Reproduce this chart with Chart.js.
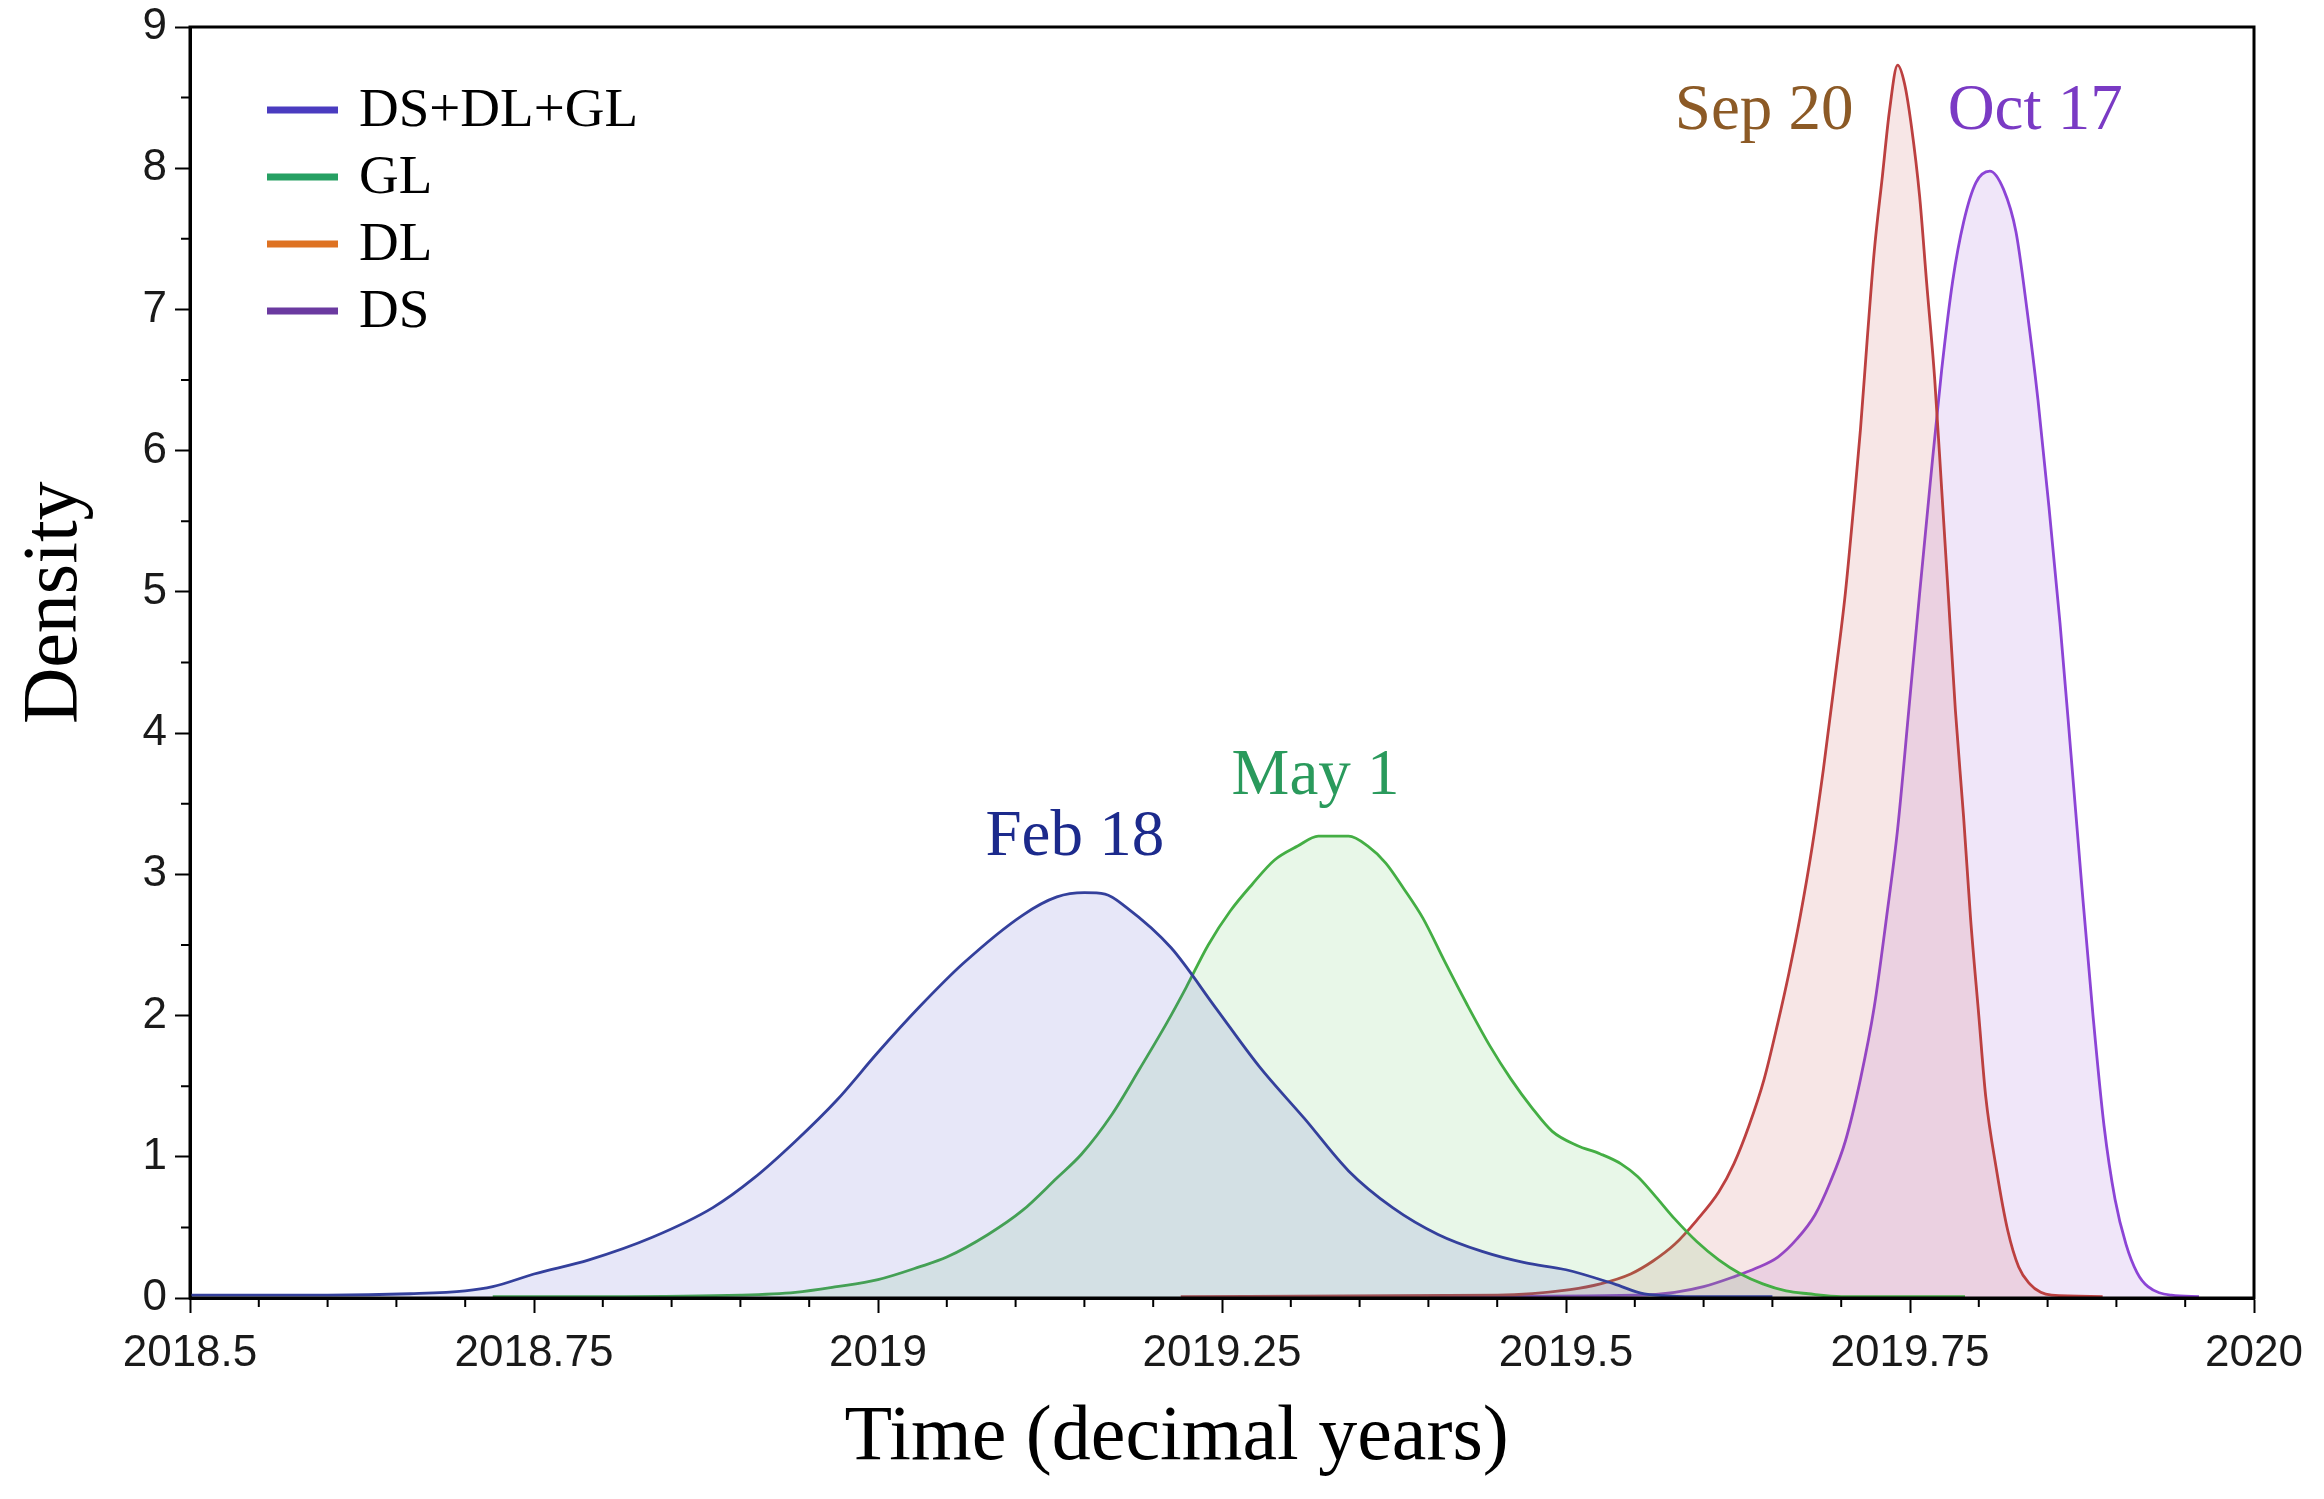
<!DOCTYPE html>
<html>
<head>
<meta charset="utf-8">
<script src="https://cdn.jsdelivr.net/npm/chart.js@4.4.1/dist/chart.umd.min.js"></script>
<style>
  html, body { margin: 0; padding: 0; background: #fff; }
  #wrap { width: 2324px; height: 1499px; }
</style>
</head>
<body>
<div id="wrap"><canvas id="graficoDensidad" width="2324" height="1499"></canvas></div>
<script>
"use strict";

//Series (decimal year, density)
const totalX = [2018.5, 2018.6, 2018.66, 2018.7, 2018.72, 2018.75, 2018.79, 2018.836, 2018.88, 2018.91, 2018.94, 2018.97, 2019.0, 2019.03, 2019.062, 2019.105, 2019.13, 2019.15, 2019.165, 2019.18, 2019.213, 2019.245, 2019.277, 2019.31, 2019.342, 2019.374, 2019.407, 2019.439, 2019.47, 2019.5, 2019.535, 2019.557, 2019.6, 2019.65];
const totalY = [0.02, 0.02, 0.03, 0.05, 0.08, 0.17, 0.27, 0.43, 0.64, 0.85, 1.11, 1.4, 1.74, 2.06, 2.37, 2.71, 2.84, 2.87, 2.86, 2.77, 2.48, 2.06, 1.64, 1.27, 0.9, 0.64, 0.45, 0.33, 0.25, 0.2, 0.1, 0.03, 0.01, 0.01];

const glX = [2018.72, 2018.8, 2018.9, 2018.94, 2018.97, 2019.0, 2019.03, 2019.05, 2019.08, 2019.105, 2019.13, 2019.148, 2019.17, 2019.19, 2019.21, 2019.224, 2019.24, 2019.256, 2019.272, 2019.288, 2019.305, 2019.32, 2019.342, 2019.356, 2019.369, 2019.382, 2019.396, 2019.412, 2019.428, 2019.445, 2019.46, 2019.475, 2019.49, 2019.508, 2019.525, 2019.54, 2019.552, 2019.565, 2019.579, 2019.595, 2019.611, 2019.627, 2019.643, 2019.66, 2019.676, 2019.7, 2019.79];
const glY = [0.01, 0.01, 0.02, 0.04, 0.08, 0.13, 0.22, 0.29, 0.45, 0.62, 0.85, 1.02, 1.3, 1.62, 1.95, 2.2, 2.5, 2.74, 2.93, 3.1, 3.2, 3.27, 3.27, 3.2, 3.08, 2.9, 2.69, 2.38, 2.08, 1.78, 1.55, 1.35, 1.18, 1.08, 1.02, 0.95, 0.86, 0.72, 0.56, 0.4, 0.27, 0.17, 0.1, 0.05, 0.03, 0.01, 0.01];

const dlX = [2019.22, 2019.45, 2019.503, 2019.525, 2019.547, 2019.563, 2019.579, 2019.595, 2019.611, 2019.622, 2019.633, 2019.644, 2019.654, 2019.662, 2019.67, 2019.679, 2019.687, 2019.695, 2019.703, 2019.709, 2019.714, 2019.719, 2019.724, 2019.73, 2019.735, 2019.741, 2019.746, 2019.751, 2019.757, 2019.762, 2019.768, 2019.773, 2019.778, 2019.783, 2019.789, 2019.794, 2019.8, 2019.805, 2019.813, 2019.821, 2019.829, 2019.837, 2019.845, 2019.853, 2019.89];
const dlY = [0.01, 0.02, 0.06, 0.1, 0.17, 0.26, 0.38, 0.55, 0.75, 0.95, 1.22, 1.55, 1.95, 2.3, 2.69, 3.2, 3.74, 4.35, 4.99, 5.6, 6.15, 6.8, 7.41, 7.95, 8.4, 8.73, 8.6, 8.3, 7.8, 7.2, 6.5, 5.73, 4.95, 4.16, 3.4, 2.69, 2.0, 1.43, 0.9, 0.48, 0.22, 0.1, 0.04, 0.02, 0.01];

const dsX = [2019.4, 2019.55, 2019.579, 2019.6, 2019.622, 2019.638, 2019.654, 2019.668, 2019.681, 2019.692, 2019.703, 2019.714, 2019.724, 2019.733, 2019.741, 2019.749, 2019.757, 2019.765, 2019.773, 2019.781, 2019.789, 2019.798, 2019.808, 2019.818, 2019.827, 2019.835, 2019.843, 2019.851, 2019.859, 2019.867, 2019.875, 2019.883, 2019.891, 2019.899, 2019.907, 2019.915, 2019.923, 2019.94, 2019.96];
const dsY = [0.01, 0.02, 0.04, 0.08, 0.15, 0.21, 0.29, 0.42, 0.59, 0.82, 1.11, 1.55, 2.06, 2.7, 3.32, 4.15, 4.99, 5.8, 6.57, 7.2, 7.62, 7.9, 7.98, 7.85, 7.55, 7.0, 6.36, 5.6, 4.78, 3.85, 2.9, 2.0, 1.22, 0.7, 0.38, 0.18, 0.08, 0.02, 0.01];

//Legend and peak labels
const legendLabels = ['DS+DL+GL', 'GL', 'DL', 'DS'];
const legendColors = ['#4a3cc0', '#26a063', '#de7222', '#6b3aa0'];
const peakLabels = [
    { text: 'Feb 18', x: 2019.143, y: 3.26, color: '#1c2a8c' },
    { text: 'May 1', x: 2019.318, y: 3.69, color: '#2a9a5c' },
    { text: 'Sep 20', x: 2019.644, y: 8.4, color: '#8c5a26' },
    { text: 'Oct 17', x: 2019.841, y: 8.4, color: '#7a3ac4' }
];
const xTitle = 'Time (decimal years)';
const yTitle = 'Density';

const toPoints = (xs, ys) => xs.map((x, i) => ({ x: x, y: ys[i] }));

const serie = (label, xs, ys, line, fill) => ({
    label: label,
    data: toPoints(xs, ys),
    borderColor: line,
    backgroundColor: fill,
    borderWidth: 2.8,
    fill: 'origin',
    pointRadius: 0,
    cubicInterpolationMode: 'monotone'
});

//Frame and minor ticks
const marco = {
    id: 'marco',
    afterDraw(chart) {
        const ctx = chart.ctx;
        const a = chart.chartArea;
        const sx = chart.scales.x;
        const sy = chart.scales.y;
        ctx.save();
        ctx.strokeStyle = '#000';
        ctx.lineWidth = 2;
        ctx.beginPath();
        for (let v = 2018.5; v <= 2020.001; v += 0.05) {
            const r = Math.round(v * 100) % 25;
            if (r === 0) continue;
            const px = sx.getPixelForValue(v);
            ctx.moveTo(px, a.bottom);
            ctx.lineTo(px, a.bottom + 9);
        }
        for (let v = 0.5; v < 9; v += 1) {
            const py = sy.getPixelForValue(v);
            ctx.moveTo(a.left, py);
            ctx.lineTo(a.left - 9, py);
        }
        ctx.stroke();
        ctx.lineWidth = 3;
        ctx.strokeRect(a.left, a.top, a.right - a.left, a.bottom - a.top);
        ctx.restore();
    }
};

//Peak labels, axis titles and legend
const textos = {
    id: 'textos',
    afterDraw(chart) {
        const ctx = chart.ctx;
        const a = chart.chartArea;
        ctx.save();
        ctx.textAlign = 'center';
        ctx.textBaseline = 'middle';
        ctx.font = '65px "Liberation Serif"';
        peakLabels.forEach(p => {
            ctx.fillStyle = p.color;
            ctx.fillText(p.text, chart.scales.x.getPixelForValue(p.x), chart.scales.y.getPixelForValue(p.y));
        });

        ctx.fillStyle = '#000';
        ctx.font = '78px "Liberation Serif"';
        ctx.fillText(xTitle, a.left + (a.right - a.left) * 0.478, a.bottom + 141);
        ctx.save();
        ctx.translate(a.left - 134, a.top + (a.bottom - a.top) * 0.453);
        ctx.rotate(-Math.PI / 2);
        ctx.fillText(yTitle, 0, 0);
        ctx.restore();

        ctx.textAlign = 'left';
        ctx.font = '55px "Liberation Serif"';
        legendLabels.forEach((txt, i) => {
            const y = a.top + 83 + i * 67;
            ctx.strokeStyle = legendColors[i];
            ctx.lineWidth = 7;
            ctx.beginPath();
            ctx.moveTo(a.left + 77, y);
            ctx.lineTo(a.left + 148, y);
            ctx.stroke();
            ctx.fillStyle = '#000';
            ctx.fillText(txt, a.left + 169, y + 2);
        });
        ctx.restore();
    }
};

const tickFont = { family: 'Liberation Sans', size: 44 };

const ctx = document.getElementById('graficoDensidad').getContext('2d');
new Chart(ctx, {
    type: 'line',
    data: {
        datasets: [
            serie('DS+DL+GL', totalX, totalY, '#34409c', 'rgba(70, 70, 200, 0.13)'),
            serie('GL', glX, glY, '#44ae44', 'rgba(90, 200, 90, 0.14)'),
            serie('DL', dlX, dlY, '#bc4040', 'rgba(200, 90, 90, 0.15)'),
            serie('DS', dsX, dsY, '#8c44d6', 'rgba(160, 100, 220, 0.16)')
        ]
    },
    options: {
        responsive: false,
        animation: false,
        devicePixelRatio: 1,
        layout: { padding: { top: 27, right: 70, left: 0, bottom: 0 } },
        plugins: {
            legend: { display: false },
            tooltip: { enabled: false }
        },
        scales: {
            x: {
                type: 'linear',
                min: 2018.5,
                max: 2020,
                afterFit: s => { s.height = 201; },
                ticks: {
                    stepSize: 0.25,
                    autoSkip: false,
                    maxRotation: 0,
                    padding: 14,
                    color: '#1a1a1a',
                    font: tickFont,
                    callback: v => String(v)
                },
                grid: { drawOnChartArea: false, tickLength: 15, tickWidth: 2, tickColor: '#000' },
                border: { color: '#000', width: 3 }
            },
            y: {
                min: 0,
                max: 9,
                afterFit: s => { s.width = 190; s.paddingTop = 0; s.paddingBottom = 0; },
                ticks: {
                    stepSize: 1,
                    padding: 8,
                    color: '#1a1a1a',
                    font: tickFont,
                    callback: v => String(v)
                },
                grid: { drawOnChartArea: false, tickLength: 15, tickWidth: 2, tickColor: '#000' },
                border: { color: '#000', width: 3 }
            }
        }
    },
    plugins: [marco, textos]
});
</script>
</body>
</html>
